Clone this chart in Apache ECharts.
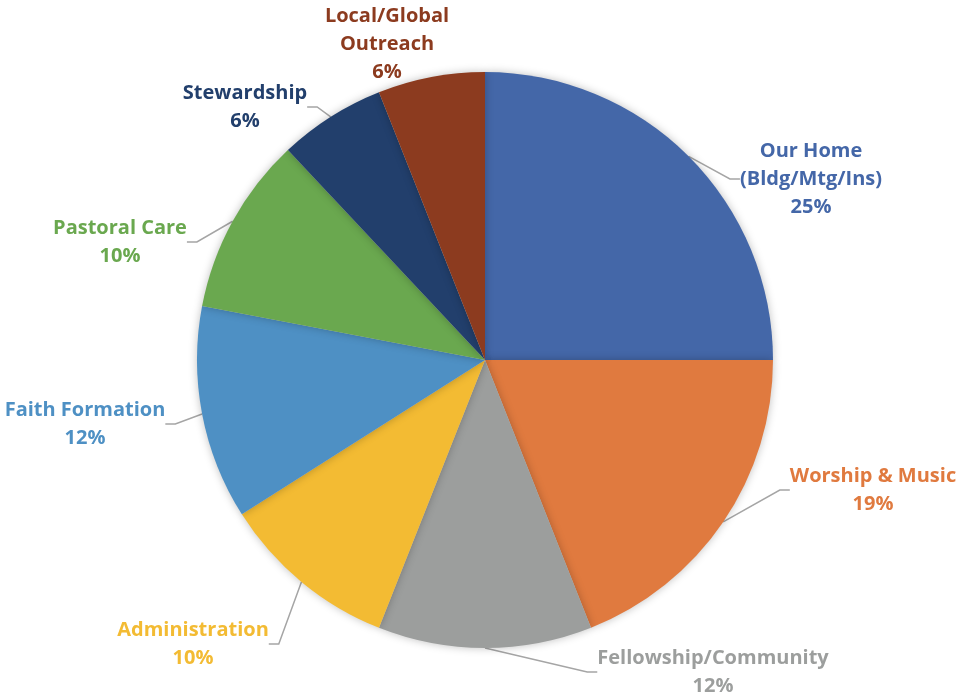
<!DOCTYPE html>
<html><head><meta charset="utf-8">
<script src="https://cdn.jsdelivr.net/npm/echarts@6/dist/echarts.min.js"></script>
<style>html,body{margin:0;padding:0;background:#fff}#c{width:969px;height:697px}</style>
</head><body><div id="c"></div>
<script>
const categories = ['Our Home\n(Bldg/Mtg/Ins)', 'Worship & Music', 'Fellowship/Community', 'Administration', 'Faith Formation', 'Pastoral Care', 'Stewardship', 'Local/Global\nOutreach'];
const values = [25, 19, 12, 10, 12, 10, 6, 6];
const colors = ['#4467A8', '#E07A3F', '#9C9E9D', '#F3BB33', '#4E90C4', '#6AA84F', '#223F6C', '#8C3B1F'];
const labelPos = [[811,179],[873,490],[713,672],[193,644],[85,424],[120,242],[245,107],[387,44]];

const chart = echarts.init(document.getElementById('c'));
chart.setOption({
  animation: false,
  series: [{
    type: 'pie',
    center: [485, 360],
    radius: 288,
    startAngle: 90,
    clockwise: true,
    avoidLabelOverlap: false,
    itemStyle: { borderWidth: 0, shadowBlur: 8, shadowColor: 'rgba(0,0,0,0.25)' },
    label: {
      show: true,
      position: 'outside',
      formatter: p => p.name + '\n' + p.value + '%',
      fontFamily: 'Open Sans',
      fontWeight: 'bold',
      fontSize: 20,
      lineHeight: 28,
      align: 'center'
    },
    labelLine: { show: true, length: 20, length2: 10, lineStyle: { color: '#A5A5A5', width: 1.5 } },
    labelLayout: function (p) {
      const pos = labelPos[p.dataIndex];
      return { x: pos[0], y: pos[1], align: 'center', verticalAlign: 'middle' };
    },
    data: categories.map((n, i) => ({
      name: n, value: values[i],
      itemStyle: { color: colors[i] },
      label: { color: colors[i] },
      labelLine: { show: i !== 7 }
    }))
  }]
});
</script></body></html>
